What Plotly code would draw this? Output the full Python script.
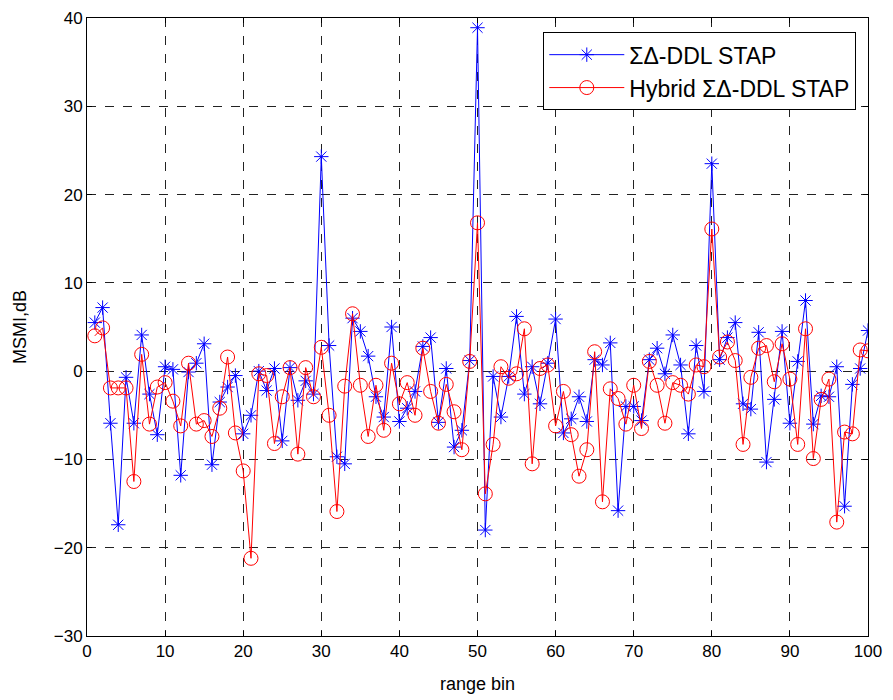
import plotly.graph_objects as go

bins = list(range(1, 101))

sd_ddl = [5.5, 7.2, -5.9, -17.4, -0.7, -5.9, 4.1, -2.6, -7.2, 0.5,
          0.2, -11.8, -0.1, 0.9, 3.1, -10.6, -3.5, -1.8, -0.5, -7.1,
          -5.0, 0.0, -2.2, 0.3, -7.9, 0.4, -3.3, -1.1, -2.6, 24.3,
          2.9, -9.7, -10.5, 6.0, 4.5, 1.7, -2.9, -5.2, 5.0, -5.7,
          -4.2, -2.3, 2.8, 3.8, -5.8, 0.3, -8.6, -6.7, 1.2, 38.9,
          -18.0, -0.6, -5.2, -0.6, 6.2, -2.6, 0.5, -3.7, 0.9, 5.9,
          -7.0, -5.4, -2.9, -5.7, 1.3, 0.7, 3.2, -15.8, -4.0, -4.0,
          -5.6, 1.3, 2.6, -0.3, 4.1, 0.7, -7.1, 2.9, -2.3, 23.5,
          1.3, 3.8, 5.5, -3.7, -4.3, 4.4, -10.3, -3.2, 4.5, -5.9,
          1.1, 8.0, -6.0, -2.8, -2.9, 0.5, -15.3, -1.5, 0.3, 4.6]

hybrid = [4.0, 4.9, -1.9, -1.9, -1.9, -12.5, 1.9, -6.0, -1.8, -1.3,
          -3.4, -6.2, 0.9, -6.0, -5.6, -7.4, -4.2, 1.6, -7.0, -11.3,
          -21.2, -0.3, -0.5, -8.2, -2.9, 0.4, -9.4, 0.4, -2.9, 2.7,
          -5.0, -15.9, -1.7, 6.5, -1.6, -7.4, -1.6, -6.7, 0.9, -3.7,
          -1.3, -5.0, 2.6, -2.3, -5.9, -1.5, -4.6, -8.9, 1.1, 16.8,
          -13.9, -8.3, 0.5, -0.8, -0.3, 4.8, -10.5, 0.3, 0.7, -6.2,
          -2.3, -7.2, -11.9, -8.9, 2.2, -14.8, -2.0, -3.1, -6.0, -1.6,
          -6.5, 1.1, -1.6, -5.9, -1.3, -1.6, -2.6, 0.7, 0.5, 16.1,
          1.6, 3.3, 1.2, -8.3, -0.7, 2.6, 2.9, -1.2, 3.1, -0.9,
          -8.3, 4.8, -9.9, -3.2, -0.9, -17.1, -6.9, -7.1, 2.4, 2.3]

x_ticks = [0, 10, 20, 30, 40, 50, 60, 70, 80, 90, 100]
y_ticks = [-30, -20, -10, 0, 10, 20, 30, 40]

FONT = "Liberation Sans, Arial, sans-serif"

fig = go.Figure()
fig.add_trace(go.Scatter(
    x=bins, y=sd_ddl, mode="lines+markers", name="ΣΔ-DDL STAP",
    line=dict(color="#0000ff", width=1),
    marker=dict(symbol="asterisk-open", size=12, color="#0000ff",
                line=dict(color="#0000ff", width=1)),
))
fig.add_trace(go.Scatter(
    x=bins, y=hybrid, mode="lines+markers", name="Hybrid ΣΔ-DDL STAP",
    line=dict(color="#ff0000", width=1),
    marker=dict(symbol="circle-open", size=14, color="#ff0000",
                line=dict(color="#ff0000", width=1)),
))

axis_common = dict(
    showline=True, linecolor="black", linewidth=1, mirror="ticks",
    ticks="inside", ticklen=5, tickcolor="black",
    showgrid=True, gridcolor="#222222", gridwidth=1, griddash="dash",
    zeroline=False, tickfont=dict(family=FONT, size=17, color="black"),
    automargin=False,
)

fig.update_xaxes(range=[0, 100], tickvals=x_ticks,
                 title=dict(text="range bin", font=dict(family=FONT, size=18, color="black"), standoff=16),
                 **axis_common)
fig.update_yaxes(range=[-30, 40], tickvals=y_ticks,
                 title=dict(text="MSMI,dB", font=dict(family=FONT, size=18, color="black"), standoff=22),
                 **axis_common)

fig.update_layout(
    width=893, height=700,
    margin=dict(l=79, r=33, t=10, b=72),
    plot_bgcolor="white", paper_bgcolor="white",
    font=dict(family=FONT, size=17, color="black"),
    legend=dict(x=0.985, y=0.977, xanchor="right", yanchor="top",
                bgcolor="white", bordercolor="black", borderwidth=1,
                itemwidth=75,
                font=dict(family=FONT, size=23, color="black")),
    showlegend=True,
)

fig.write_html("out.html")
